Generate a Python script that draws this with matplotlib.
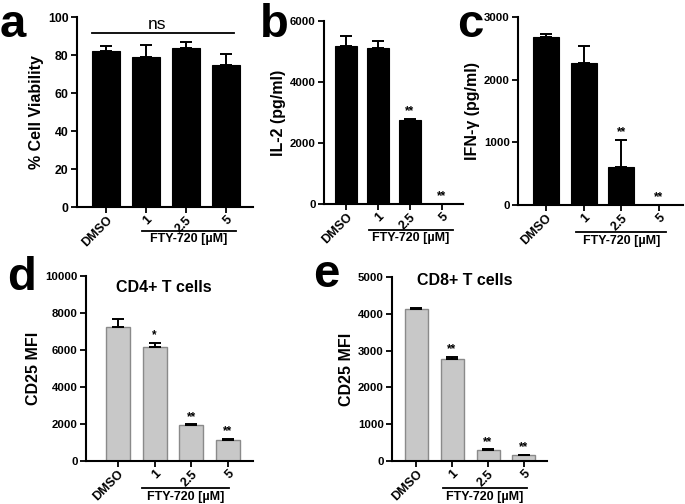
import matplotlib
matplotlib.use("Agg")
import matplotlib.pyplot as plt
import matplotlib.transforms as mtrans

plt.rcParams['font.family'] = ['Liberation Sans', 'DejaVu Sans']
plt.rcParams['font.weight'] = 'bold'

categories = ["DMSO", "1", "2.5", "5"]

viability = [82, 79, 83.5, 75]
viability_err = [2.5, 6.5, 3.5, 5.5]

il2 = [5180, 5130, 2750, 8]
il2_err = [340, 200, 50, 0]
il2_sig = ["", "", "**", "**"]

ifng = [2680, 2270, 610, 5]
ifng_err = [50, 270, 430, 0]
ifng_sig = ["", "", "**", "**"]

cd4 = [7250, 6150, 1920, 1150]
cd4_err = [450, 250, 60, 50]
cd4_sig = ["", "*", "**", "**"]

cd8 = [4120, 2780, 290, 160]
cd8_err = [40, 50, 30, 10]
cd8_sig = ["", "**", "**", "**"]

W, H = 685, 504
fig = plt.figure(figsize=(6.85, 5.04), dpi=100)


def px_axes(l, r, b, t):
    return fig.add_axes([l / W, 1 - b / H, (r - l) / W, (b - t) / H])


def panel(ax, vals, errs, ylim, yticks, ylabel, xlim, width, fill, edge,
          sig=None, fty=(0.8, 3.4), fty_y=-0.14, title=None, title_pos=(0.47, 0.94),
          ytick_size=8.2):
    x = list(range(len(vals)))
    ax.bar(x, vals, width=width, color=fill, edgecolor=edge,
           linewidth=1.0 if fill != 'black' else 0.8, zorder=2)
    ax.errorbar(x, vals, yerr=[[0] * len(vals), errs], fmt='none',
                ecolor='black', elinewidth=1.4, capsize=4, capthick=1.4, zorder=3)
    ax.set_xlim(*xlim)
    ax.set_ylim(*ylim)
    ax.set_yticks(yticks)
    ax.set_xticks(x)
    ax.set_xticklabels(categories, rotation=45, ha='right', rotation_mode='anchor')
    for s in ['top', 'right']:
        ax.spines[s].set_visible(False)
    for s in ['left', 'bottom']:
        ax.spines[s].set_linewidth(1.5)
    ax.tick_params(axis='both', length=4, width=1.3)
    ax.tick_params(axis='y', labelsize=ytick_size, pad=2)
    ax.tick_params(axis='x', labelsize=9, pad=1)
    for lab in ax.get_xticklabels() + ax.get_yticklabels():
        lab.set_fontweight('bold')
    ax.set_ylabel(ylabel, fontsize=11.5, fontweight='bold', labelpad=3)
    if sig is not None:
        for i, s in enumerate(sig):
            if s:
                ax.text(i, vals[i] + errs[i] + (ylim[1] - ylim[0]) * 0.008, s,
                        ha='center', va='bottom', fontsize=8.5)
    tr = mtrans.blended_transform_factory(ax.transData, ax.transAxes)
    ax.plot([fty[0], fty[1]], [fty_y, fty_y], color='black', lw=1.3,
            transform=tr, clip_on=False)
    ax.text((fty[0] + fty[1]) / 2, fty_y - 0.012, "FTY-720 [µM]", transform=tr,
            ha='center', va='top', fontsize=9, fontweight='bold')
    if title:
        ax.text(title_pos[0], title_pos[1], title, transform=ax.transAxes,
                ha='center', va='center', fontsize=11.5, fontweight='bold')


# Panel a
ax_a = px_axes(77, 253, 207, 17)
panel(ax_a, viability, viability_err, (0, 100), [0, 20, 40, 60, 80, 100],
      "% Cell Viability", (-0.725, 3.675), 0.7, 'black', 'black',
      fty=(0.9, 3.25), fty_y=-0.125, ytick_size=8.8)
ax_a.plot([-0.35, 3.2], [91.6, 91.6], color='black', lw=1.3)
ax_a.text(1.28, 92.3, "ns", ha='center', va='bottom', fontsize=12.5,
          fontweight='normal')

# Panel b
ax_b = px_axes(324, 463, 204, 21)
panel(ax_b, il2, il2_err, (0, 6000), [0, 2000, 4000, 6000],
      "IL-2 (pg/ml)", (-0.69, 3.66), 0.69, 'black', 'black', sig=il2_sig,
      fty=(0.72, 3.34), fty_y=-0.14)

# Panel c
ax_c = px_axes(518, 683, 205, 17)
panel(ax_c, ifng, ifng_err, (0, 3000), [0, 1000, 2000, 3000],
      "IFN-γ (pg/ml)", (-0.74, 3.64), 0.69, 'black', 'black', sig=ifng_sig,
      fty=(0.81, 3.19), fty_y=-0.146)

# Panel d
ax_d = px_axes(86, 253, 461, 276)
panel(ax_d, cd4, cd4_err, (0, 10000), [0, 2000, 4000, 6000, 8000, 10000],
      "CD25 MFI", (-0.87, 3.68), 0.65, '#c8c8c8', '#8a8a8a', sig=cd4_sig,
      fty=(0.65, 3.03), fty_y=-0.148, title="CD4+ T cells", title_pos=(0.467, 0.94))

# Panel e
ax_e = px_axes(392, 547, 461, 277)
panel(ax_e, cd8, cd8_err, (0, 5000), [0, 1000, 2000, 3000, 4000, 5000],
      "CD25 MFI", (-0.67, 3.64), 0.64, '#c8c8c8', '#8a8a8a', sig=cd8_sig,
      fty=(0.75, 3.08), fty_y=-0.149, title="CD8+ T cells", title_pos=(0.47, 0.98))

# Panel letters (x centre, baseline y in pixels)
for letter, (px, py) in {"a": (13, 37), "b": (274, 37), "c": (470, 37),
                         "d": (22, 290), "e": (326, 287)}.items():
    fig.text(px / W, 1 - py / H, letter, ha='center', va='baseline',
             fontsize=34, fontweight='bold')

fig.savefig("out.png", dpi=100)
